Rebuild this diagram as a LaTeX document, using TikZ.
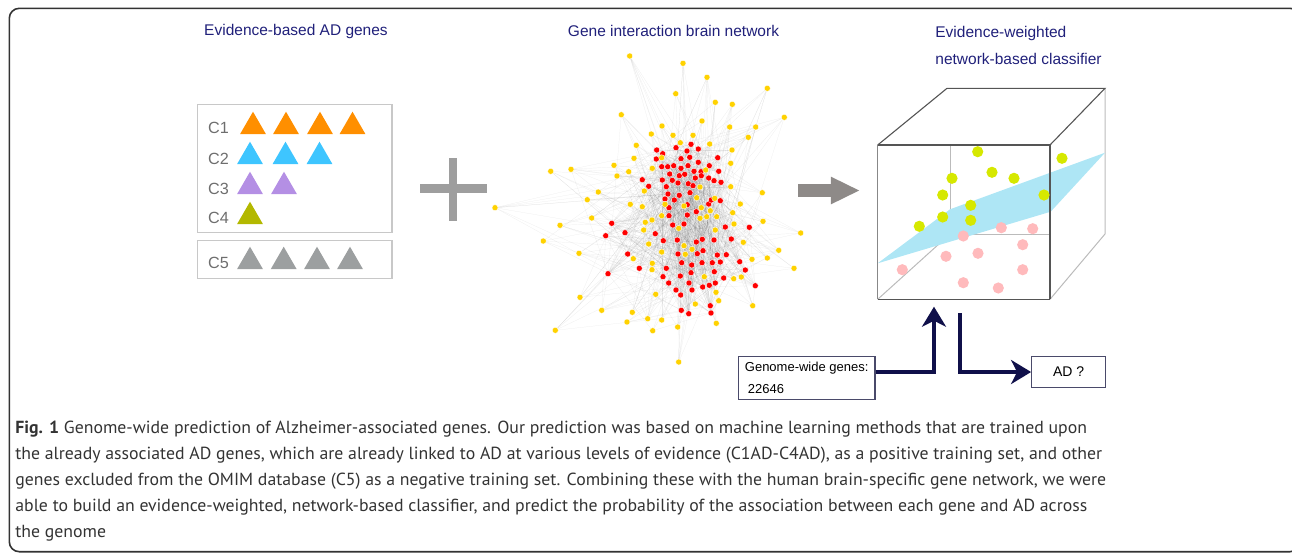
\documentclass[tikz,border=0pt]{standalone}
\usepackage{fontspec}
\setmainfont{Liberation Sans}
\newfontfamily\capfont[FakeStretch=1.015]{PT Sans}
\usepackage{tikz}
\usetikzlibrary{shapes.geometric, arrows.meta, backgrounds}
\usepackage{xcolor}
\definecolor{ADNavy}{HTML}{20207A}
\definecolor{ADInk}{HTML}{10104A}
\definecolor{ADOrange}{HTML}{FF8F00}
\definecolor{ADBlue}{HTML}{3EC5FF}
\definecolor{ADPurple}{HTML}{B48FE4}
\definecolor{ADOlive}{HTML}{B3B800}
\definecolor{ADGrey}{HTML}{9C9FA0}
\definecolor{ADPlus}{HTML}{9E9E9E}
\definecolor{ADArrow}{HTML}{8E8A88}
\definecolor{ADRed}{HTML}{FF0000}
\definecolor{ADGold}{HTML}{FFD200}
\definecolor{ADLime}{HTML}{D6E800}
\definecolor{ADPink}{HTML}{FFBABC}
\definecolor{ADSky}{HTML}{AEE6F5}
\definecolor{ADFrame}{HTML}{C8C8C8}
\definecolor{ADLabel}{HTML}{6E6E6E}
\definecolor{ADBox}{HTML}{4A4A6A}
\definecolor{ADEdge}{HTML}{555555}
\definecolor{ADHidden}{HTML}{BBBBBB}
\definecolor{ADText}{HTML}{333333}
\tikzset{
    % Text styles
    title/.style={
        font=\fontsize{7.75}{13.5}\selectfont,
        text=ADNavy,
        inner sep=0
    },
    setlabel/.style={
        font=\fontsize{8.1}{9}\selectfont,
        text=ADLabel,
        anchor=west,
        inner sep=0
    },
    caption/.style={
        font=\capfont\fontsize{8.75}{13}\selectfont,
        text=ADText,
        align=left,
        inner sep=0
    },
    % Boxes and markers
    setbox/.style={
        rectangle,
        draw=ADFrame,
        line width=0.75pt,
        minimum width=97.35pt,
        inner sep=0
    },
    gene/.style={
        regular polygon,
        regular polygon sides=3,
        minimum size=15pt,
        inner sep=0
    },
    reddot/.style={circle, fill=ADRed, draw=white, line width=0.15pt, minimum size=3pt, inner sep=0},
    golddot/.style={circle, fill=ADGold, draw=white, line width=0.15pt, minimum size=3pt, inner sep=0},
    limedot/.style={circle, fill=ADLime, minimum size=5.6pt, inner sep=0},
    pinkdot/.style={circle, fill=ADPink, minimum size=5.6pt, inner sep=0},
    infobox/.style={
        rectangle,
        draw=ADBox,
        line width=0.6pt,
        font=\fontsize{6.5}{10.85}\selectfont,
        align=left,
        inner sep=0
    },
    % Arrow styles
    link/.style={draw=black, line width=0.1pt, opacity=0.08},
    blockarrow/.style={
        -{Triangle[length=14.6pt 0 0, width=12.7pt 0 0]},
        line width=6.2pt,
        draw=ADArrow
    },
    thickarrow/.style={
        -{Stealth[length=10pt 0 0, width=12pt 0 0, inset=3pt 0]},
        line width=2pt,
        draw=ADInk
    },
    cubeedge/.style={draw=ADEdge, line width=0.55pt},
    hiddenedge/.style={draw=ADHidden, line width=0.5pt}
}

\begin{document}
\begin{tikzpicture}[x=0.5pt, y=-0.5pt]
    \useasboundingbox (0,0) rectangle (1292,553);
    \draw[line width=0.8pt, draw=black!80, rounded corners=5pt] (9.3,8.3) rectangle (1300,551.7);

    \node[title] (t1) at (296,31) {Evidence-based AD genes};
    \node[title] (t2) at (673.5,31) {Gene interaction brain network};
    \node[title, anchor=west, align=left] (t3) at (935,45) {Evidence-weighted\\network-based classifier};

    \node[setbox, minimum height=64.2pt] (pos) at (294.65,168.5) {};
    \node[setbox, minimum height=18.8pt] (neg) at (294.65,259.5) {};

    \node[setlabel] (l1) at (207.7,128.3) {C1};
    \node[setlabel] (l2) at (207.7,159) {C2};
    \node[setlabel] (l3) at (207.7,189) {C3};
    \node[setlabel] (l4) at (207.7,218) {C4};
    \node[setlabel] (l5) at (207.7,263) {C5};

    \foreach \x [count=\i] in {253,286,320,352.5}
        \node[gene, fill=ADOrange] (ca\i) at (\x,126.7) {};
    \foreach \x [count=\i] in {250,285.5,319.5}
        \node[gene, fill=ADBlue] (cb\i) at (\x,156.7) {};
    \foreach \x [count=\i] in {250,284}
        \node[gene, fill=ADPurple] (cc\i) at (\x,186.7) {};
    \node[gene, fill=ADOlive] (cd1) at (250,216.7) {};
    \foreach \x [count=\i] in {250,283.7,317,350}
        \node[gene, fill=ADGrey] (ce\i) at (\x,261.7) {};

    \fill[ADPlus] (449,158.3) rectangle (457.3,220.7);
    \fill[ADPlus] (420,184.3) rectangle (487.3,193.3);

    \foreach \p [count=\i] in {(656.7,150), (676,147.7), (687,151), (698.3,149), (691,144.3),
        (662.7,153.7), (681,158.7), (689.7,157.3), (717.7,157.7), (656.3,159),
        (661.7,166.7), (667.7,166.7), (673.7,165.7), (681,168.3), (688,165.7),
        (698.3,162.3), (709.3,165.7), (669.7,174), (679.3,175.7), (684.7,174.3),
        (694,171.3), (701,171.7), (718.7,171.3), (662.3,180), (672.3,180.3),
        (695.3,178), (701.3,175.7), (708.7,178), (714,180.7), (721,182.3),
        (642.3,179.7), (648.7,186.3), (666.3,186.7), (678,183), (688.3,183.7),
        (693,185.7), (668,194), (679.3,195.3), (690,192.7), (665,199),
        (674.3,200), (669,207.7), (687.3,204.7), (696.3,211.7), (708.7,204),
        (711.3,200), (720.3,200.7), (669,215.7), (687.3,215), (672.7,225),
        (684,224), (725.3,227), (749.3,227.3), (611.7,223.3), (625,232.7),
        (605.7,235.7), (655.3,233.7), (663.3,240.7), (677.3,240), (696.3,242),
        (702.3,239.3), (714,240), (731.3,239), (627.7,254), (678,254),
        (697.3,253.7), (703,250.7), (717.3,255), (726.3,254.7), (681.7,262.7),
        (691.7,265), (702,262.7), (712.3,262.7), (720.3,262), (739.7,261.7),
        (745.3,270), (639.3,268.3), (666.3,268.3), (691,272.7), (714.3,271.7),
        (608,273.7), (663,276.7), (680.3,276), (723.7,278), (668.7,283),
        (689,283), (702.7,287), (709.3,285.3), (715.3,283), (755.3,285.7),
        (676,290), (692,290), (680.7,295), (710.3,305.7), (681.3,310.3),
        (688.7,313.7), (711,313)}
        \node[reddot] (r\i) at \p {};

    \foreach \p [count=\i] in {(629.7,56), (683,63.3), (707,77.3), (767.3,88.3), (675.7,93.7),
        (715.3,102.3), (732.3,104.3), (784.3,117.3), (621.3,114.7), (702,121),
        (662,126), (729.7,127), (755.7,127), (651.3,134), (673,135.3),
        (748.3,137.3), (693,135.3), (636.3,145.3), (680.3,142.7), (709.7,144),
        (732,150), (550.7,171.3), (571,169.3), (614,165.3), (634,158.3),
        (617,176), (628.7,171.7), (730.7,163.3), (652,168.7), (730.7,186.7),
        (762.3,192.7), (598.3,192), (587.3,199.7), (644.3,191), (495,207.7),
        (630.3,204.3), (642.3,206.7), (591.7,218), (560,225.3), (543.3,241),
        (579,253.3), (740.3,204), (732.7,212.7), (763,221.3), (800.7,233),
        (743.3,242.3), (778.7,250.3), (767.3,258), (794,268.3), (752,259.3),
        (734,224), (580,297.3), (601.7,310.3), (555.3,330.3), (632.3,312.3),
        (627,322), (647.7,318.7), (652.7,330.7), (661.7,320), (677.7,327),
        (678.7,362), (716.3,323.3), (752.7,305.7), (718.7,300.7), (716,292.3),
        (733.7,278.7), (741.3,277), (695.3,304), (655.7,294.3), (652.3,263.3),
        (652,269.7), (633.3,258.7), (661.7,252), (648.7,244), (643.7,230),
        (652,220), (645.3,222.3), (661.7,215.7), (665,204.3), (678.7,228.3),
        (684,206), (696.7,197.7), (700,187), (701.3,207.7), (710.3,210.7),
        (714.7,198.3), (716.7,216.7), (700,218.3), (706.7,216.7), (684,245.7),
        (692,249.3), (685.3,254.3), (704.3,276.7), (715.3,230), (661.7,157.7),
        (652.3,168.3), (705.7,170)}
        \node[golddot] (y\i) at \p {};

    \begin{scope}[on background layer]
        \pgfmathsetseed{4711}
        \foreach \i in {1,...,97}{
            \foreach \k in {1,...,6}{
                \pgfmathrandominteger{\j}{1}{97}
                \ifnum\j=\i\relax\else\draw[link] (r\i) -- (r\j);\fi
            }
            \foreach \k in {1,2}{
                \pgfmathrandominteger{\j}{1}{97}
                \draw[link] (r\i) -- (y\j);
            }
        }
        \foreach \i in {1,...,97}{
            \foreach \k in {1,...,4}{
                \pgfmathrandominteger{\j}{1}{97}
                \draw[link] (y\i) -- (r\j);
            }
        }
    \end{scope}

    \coordinate (netout) at (798.3,190.5);
    \coordinate (cubein) at (860,190.5);
    \draw[blockarrow] (netout) -- (cubein);

    \coordinate (ftl) at (877.7,145);
    \coordinate (ftr) at (1050,145);
    \coordinate (fbr) at (1050,299.3);
    \coordinate (fbl) at (877.7,299.3);
    \coordinate (btl) at (947,88.3);
    \coordinate (btr) at (1105,88.3);
    \coordinate (bbr) at (1105,234);
    \coordinate (bbl) at (950,234);

    \draw[hiddenedge] (950,145) -- (bbl) -- (fbr |- bbl);
    \draw[hiddenedge] (fbl) -- (bbl);
    \draw[hiddenedge] (btr) -- (bbr) -- (fbr);
    \fill[ADSky] (877.7,263.3) -- (950,209.3) -- (1105,152.7) -- (1050.7,211.7) -- cycle;
    \draw[draw=ADEdge!70, line width=0.5pt] (ftl) -- (fbl);
    \draw[cubeedge] (ftl) -- (btl) -- (btr) -- (ftr);
    \draw[cubeedge] (ftl) -- (ftr) -- (fbr);
    \draw[cubeedge, line width=0.8pt] (fbl) -- (fbr);

    \foreach \p [count=\i] in {(977.7,151.7), (1062,158.3), (992,172.3), (1014,178.3),
        (952,178.3), (942.7,195), (1044,195), (970.7,205.3), (942.7,217),
        (970.7,220.3), (919.3,226.3)}
        \node[limedot] (g\i) at \p {};
    \foreach \p [count=\i] in {(1001.3,227.7), (1032.7,228.7), (963.3,236), (1022.7,244.7),
        (978,253.3), (946,256.3), (902.3,269.7), (1022.7,269.7), (963.3,282.7),
        (998.3,288)}
        \node[pinkdot] (n\i) at \p {};

    \node[infobox, minimum width=68.3pt, minimum height=21.3pt] (genome) at (806.7,378)
        {Genome-wide genes:\\\hspace*{1.5pt}22646};
    \node[infobox, minimum width=37pt, minimum height=15.3pt, align=center,
        font=\fontsize{7}{8}\selectfont] (adq) at (1068.7,372) {AD ?};

    \coordinate (cin) at (934,306.7);
    \coordinate (cout) at (960.3,313.3);
    \draw[thickarrow] (genome.east |- adq) -| (cin);
    \draw[thickarrow] (cout) |- (adq.west);

    \node[caption, anchor=north west] (cap) at (15,421)
        {{\bfseries Fig. 1} Genome-wide prediction of Alzheimer-associated genes. Our prediction was based on machine learning methods that are trained upon\\
        the already associated AD genes, which are already linked to AD at various levels of evidence (C1AD-C4AD), as a positive training set, and other\\
        genes excluded from the OMIM database (C5) as a negative training set. Combining these with the human brain-specific gene network, we were\\
        able to build an evidence-weighted, network-based classifier, and predict the probability of the association between each gene and AD across\\
        the genome};
\end{tikzpicture}
\end{document}
